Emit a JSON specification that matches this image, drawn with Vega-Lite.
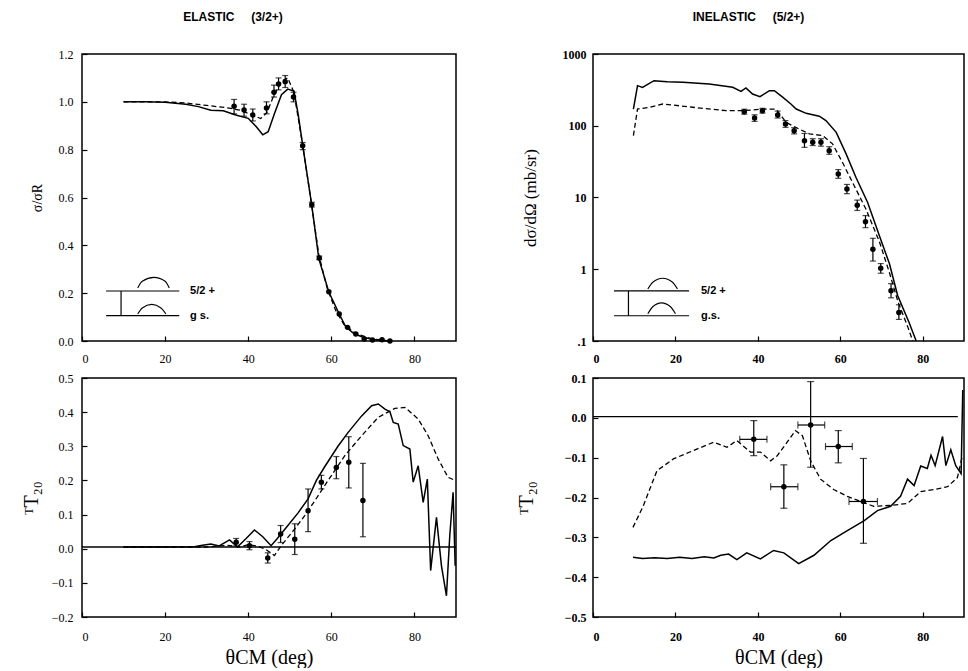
{
"$schema":"https://vega.github.io/schema/vega-lite/v6.json",
"background":"white",
"padding":{"left":20,"top":10,"right":0,"bottom":0},
"bounds":"flush",
"align":"each",
"columns":2,
"spacing":{"row":37,"column":137},
"datasets":{
"tl_solid":[{"x":10,"y":1.0},{"x":15,"y":1.0},{"x":20,"y":0.998},{"x":25,"y":0.99},{"x":28,"y":0.98},{"x":31,"y":0.965},{"x":34,"y":0.963},{"x":37,"y":0.945},{"x":40,"y":0.931},{"x":42,"y":0.895},{"x":43.5,"y":0.862},{"x":44.8,"y":0.875},{"x":46.3,"y":0.95},{"x":48,"y":1.03},{"x":49.5,"y":1.053},{"x":51,"y":1.045},{"x":52,"y":0.95},{"x":53.1,"y":0.82},{"x":55.3,"y":0.566},{"x":57,"y":0.343},{"x":59.4,"y":0.205},{"x":61.9,"y":0.113},{"x":63.5,"y":0.058},{"x":65.5,"y":0.03},{"x":67.5,"y":0.017},{"x":70,"y":0.006},{"x":74,"y":0.0}],
"tl_dash":[{"x":10,"y":1.0},{"x":20,"y":1.0},{"x":25,"y":0.995},{"x":30,"y":0.985},{"x":35,"y":0.975},{"x":38,"y":0.965},{"x":41,"y":0.945},{"x":43,"y":0.93},{"x":44.5,"y":0.955},{"x":46,"y":1.02},{"x":48,"y":1.085},{"x":49.5,"y":1.1},{"x":51,"y":1.04},{"x":53,"y":0.83},{"x":55,"y":0.6},{"x":57,"y":0.36},{"x":59,"y":0.22},{"x":61,"y":0.13},{"x":63,"y":0.07},{"x":66,"y":0.03},{"x":70,"y":0.008},{"x":74,"y":0.0}],
"tl_pts":[{"x":36.6,"y":0.982,"lo":0.95,"hi":1.01},{"x":39,"y":0.966,"lo":0.94,"hi":0.99},{"x":41.1,"y":0.945,"lo":0.92,"hi":0.97},{"x":44.4,"y":0.974,"lo":0.95,"hi":1.0},{"x":46.2,"y":1.04,"lo":1.02,"hi":1.07},{"x":47.3,"y":1.075,"lo":1.05,"hi":1.1},{"x":48.9,"y":1.084,"lo":1.06,"hi":1.11},{"x":50.9,"y":1.02,"lo":1.0,"hi":1.04},{"x":53.1,"y":0.816,"lo":0.8,"hi":0.83},{"x":55.3,"y":0.57,"lo":0.56,"hi":0.58},{"x":57.1,"y":0.347,"lo":0.34,"hi":0.355},{"x":59.4,"y":0.206,"lo":0.206,"hi":0.206},{"x":61.9,"y":0.113,"lo":0.113,"hi":0.113},{"x":63.9,"y":0.057,"lo":0.057,"hi":0.057},{"x":65.9,"y":0.029,"lo":0.029,"hi":0.029},{"x":67.9,"y":0.008,"lo":0.008,"hi":0.008},{"x":69.9,"y":0.004,"lo":0.004,"hi":0.004},{"x":72.2,"y":0.005,"lo":0.005,"hi":0.005},{"x":74.1,"y":0.0,"lo":0.0,"hi":0.0}],
"tl_lev":[{"x1":5.8,"x2":23.4,"y":0.209},{"x1":5.8,"x2":23.4,"y":0.106}],
"tl_arr":[{"x":9.4,"lo":0.106,"hi":0.209}],
"tl_arc":[{"x":13.4,"y":0.222,"g":"u"},{"x":14.5,"y":0.25,"g":"u"},{"x":17.3,"y":0.266,"g":"u"},{"x":20,"y":0.25,"g":"u"},{"x":21,"y":0.222,"g":"u"},{"x":13.4,"y":0.113,"g":"l"},{"x":14.5,"y":0.138,"g":"l"},{"x":16.8,"y":0.153,"g":"l"},{"x":19,"y":0.138,"g":"l"},{"x":20.2,"y":0.113,"g":"l"}],
"tl_txt":[{"x":26,"y":0.209,"t":"5/2 +"},{"x":26,"y":0.106,"t":"g s."}],
"tr_solid":[{"x":9.8,"y":171},{"x":10.8,"y":362},{"x":12,"y":343},{"x":14.8,"y":425},{"x":18,"y":410},{"x":21.8,"y":403},{"x":28.2,"y":382},{"x":33.9,"y":343},{"x":35.9,"y":302},{"x":37.1,"y":336},{"x":38.7,"y":277},{"x":40.5,"y":254},{"x":42.8,"y":308},{"x":44,"y":308},{"x":46,"y":250},{"x":48,"y":201},{"x":49.3,"y":171},{"x":51.7,"y":149},{"x":54.9,"y":136},{"x":56.5,"y":118},{"x":59,"y":81},{"x":61.4,"y":40.5},{"x":63.8,"y":19},{"x":66.6,"y":8.6},{"x":69.5,"y":2.9},{"x":71.9,"y":1.2},{"x":73.9,"y":0.43},{"x":76.7,"y":0.18},{"x":78.4,"y":0.1},{"x":79,"y":0.08}],
"tr_dash":[{"x":9.8,"y":72.8},{"x":10.8,"y":171},{"x":13.7,"y":181},{"x":16.9,"y":201},{"x":24.2,"y":181},{"x":32.3,"y":162},{"x":36.3,"y":162},{"x":41.2,"y":171},{"x":44.4,"y":171},{"x":46.8,"y":112},{"x":49.3,"y":94},{"x":52.5,"y":77},{"x":55.7,"y":73},{"x":58.1,"y":56},{"x":60.5,"y":31},{"x":63.8,"y":13},{"x":66.2,"y":6.9},{"x":69.5,"y":2.4},{"x":71.9,"y":0.9},{"x":74,"y":0.35},{"x":76.5,"y":0.15},{"x":78.5,"y":0.07}],
"tr_pts":[{"x":36.7,"y":157,"lo":145,"hi":170},{"x":39.2,"y":128,"lo":115,"hi":142},{"x":41.1,"y":162,"lo":150,"hi":175},{"x":44.8,"y":141,"lo":128,"hi":160},{"x":46.7,"y":106,"lo":95,"hi":118},{"x":48.8,"y":85,"lo":77,"hi":94},{"x":51.3,"y":62,"lo":50,"hi":78},{"x":53.3,"y":59,"lo":53,"hi":66},{"x":55.3,"y":59,"lo":52,"hi":66},{"x":57.3,"y":45,"lo":40,"hi":51},{"x":59.5,"y":21.3,"lo":18.5,"hi":24.5},{"x":61.6,"y":13.1,"lo":11.3,"hi":15.2},{"x":64.1,"y":7.8,"lo":6.6,"hi":9.2},{"x":66.1,"y":4.6,"lo":3.8,"hi":5.6},{"x":67.9,"y":1.9,"lo":1.3,"hi":2.7},{"x":69.8,"y":1.03,"lo":0.88,"hi":1.2},{"x":72.3,"y":0.5,"lo":0.4,"hi":0.63},{"x":74.2,"y":0.25,"lo":0.2,"hi":0.32}],
"tr_lev":[{"x1":5.1,"x2":23.3,"y":0.498},{"x1":5.1,"x2":23.3,"y":0.225}],
"tr_arr":[{"x":8.6,"lo":0.225,"hi":0.498}],
"tr_arc":[{"x":13.3,"y":0.53,"g":"u"},{"x":14.5,"y":0.66,"g":"u"},{"x":16.9,"y":0.75,"g":"u"},{"x":19.3,"y":0.66,"g":"u"},{"x":20.5,"y":0.53,"g":"u"},{"x":13.3,"y":0.24,"g":"l"},{"x":14.5,"y":0.3,"g":"l"},{"x":16.6,"y":0.34,"g":"l"},{"x":18.8,"y":0.3,"g":"l"},{"x":20,"y":0.24,"g":"l"}],
"tr_txt":[{"x":26.2,"y":0.498,"t":"5/2 +"},{"x":26.2,"y":0.225,"t":"g.s."}],
"bl_zero":[{"x1":0,"x2":90,"y":0.005}],
"br_zero":[{"x1":0,"x2":88.5,"y":0.003}],
"bl_solid":[{"x":10,"y":0.005},{"x":20,"y":0.005},{"x":27,"y":0.006},{"x":29,"y":0.01},{"x":31,"y":0.014},{"x":33,"y":0.008},{"x":35.5,"y":0.026},{"x":37.4,"y":0.005},{"x":39.5,"y":0.03},{"x":41.5,"y":0.055},{"x":43.5,"y":0.035},{"x":45.5,"y":0.009},{"x":47,"y":0.03},{"x":49.5,"y":0.067},{"x":52,"y":0.105},{"x":54.4,"y":0.146},{"x":56.4,"y":0.2},{"x":58.4,"y":0.24},{"x":61.6,"y":0.3},{"x":64,"y":0.34},{"x":67.3,"y":0.389},{"x":69.7,"y":0.419},{"x":71.3,"y":0.424},{"x":72.9,"y":0.409},{"x":74.1,"y":0.401},{"x":74.9,"y":0.37},{"x":76.1,"y":0.365},{"x":77.3,"y":0.302},{"x":78.9,"y":0.292},{"x":79.7,"y":0.195},{"x":80.9,"y":0.243},{"x":82.1,"y":0.136},{"x":83.1,"y":0.204},{"x":83.9,"y":-0.064},{"x":85.3,"y":0.092},{"x":86.5,"y":-0.05},{"x":87.7,"y":-0.138},{"x":88.5,"y":0.038},{"x":89.3,"y":0.165},{"x":89.8,"y":-0.05}],
"bl_dash":[{"x":10,"y":0.005},{"x":30,"y":0.005},{"x":35,"y":0.01},{"x":38,"y":0.005},{"x":40,"y":0.012},{"x":42,"y":0.008},{"x":44,"y":0.0},{"x":46.3,"y":-0.02},{"x":48,"y":0.01},{"x":51.2,"y":0.058},{"x":53.6,"y":0.097},{"x":56,"y":0.14},{"x":58.4,"y":0.185},{"x":63.2,"y":0.272},{"x":67.3,"y":0.331},{"x":71.3,"y":0.385},{"x":75.3,"y":0.411},{"x":77.7,"y":0.414},{"x":80.9,"y":0.38},{"x":83.3,"y":0.331},{"x":85.7,"y":0.263},{"x":88.1,"y":0.209},{"x":89.8,"y":0.2}],
"bl_pts":[{"x":37.1,"y":0.019,"lo":0.008,"hi":0.03},{"x":40.3,"y":0.009,"lo":-0.003,"hi":0.021},{"x":44.7,"y":-0.027,"lo":-0.042,"hi":-0.012},{"x":47.8,"y":0.043,"lo":0.018,"hi":0.068},{"x":51.2,"y":0.028,"lo":-0.017,"hi":0.073},{"x":54.4,"y":0.111,"lo":0.05,"hi":0.175},{"x":57.6,"y":0.195,"lo":0.175,"hi":0.215},{"x":61.2,"y":0.238,"lo":0.205,"hi":0.27},{"x":64.2,"y":0.253,"lo":0.178,"hi":0.328},{"x":67.6,"y":0.141,"lo":0.035,"hi":0.25}],
"br_solid":[{"x":9.7,"y":-0.35},{"x":12,"y":-0.353},{"x":15,"y":-0.351},{"x":18,"y":-0.353},{"x":21,"y":-0.35},{"x":24,"y":-0.353},{"x":27,"y":-0.349},{"x":29.3,"y":-0.352},{"x":31,"y":-0.345},{"x":32.9,"y":-0.342},{"x":34.9,"y":-0.356},{"x":37.3,"y":-0.339},{"x":40.6,"y":-0.354},{"x":43.8,"y":-0.333},{"x":46.3,"y":-0.339},{"x":49.9,"y":-0.366},{"x":53.6,"y":-0.345},{"x":57.7,"y":-0.308},{"x":61.7,"y":-0.283},{"x":65.8,"y":-0.258},{"x":69,"y":-0.233},{"x":72.2,"y":-0.222},{"x":74.6,"y":-0.197},{"x":76.3,"y":-0.154},{"x":77.9,"y":-0.17},{"x":79.5,"y":-0.121},{"x":81.1,"y":-0.127},{"x":82,"y":-0.094},{"x":83,"y":-0.12},{"x":84.8,"y":-0.047},{"x":85.6,"y":-0.12},{"x":86.8,"y":-0.08},{"x":88,"y":-0.12},{"x":89.3,"y":-0.14},{"x":89.7,"y":0.07}],
"br_dash":[{"x":9.7,"y":-0.275},{"x":12.2,"y":-0.221},{"x":15.5,"y":-0.133},{"x":19.5,"y":-0.103},{"x":24.4,"y":-0.082},{"x":29.3,"y":-0.061},{"x":32.5,"y":-0.074},{"x":34.9,"y":-0.057},{"x":38.2,"y":-0.086},{"x":40.6,"y":-0.086},{"x":43.1,"y":-0.108},{"x":44.7,"y":-0.095},{"x":47.1,"y":-0.061},{"x":49.1,"y":-0.032},{"x":50.8,"y":-0.045},{"x":52.8,"y":-0.108},{"x":55.2,"y":-0.154},{"x":58.4,"y":-0.18},{"x":61.7,"y":-0.197},{"x":64.9,"y":-0.21},{"x":68.1,"y":-0.222},{"x":72.2,"y":-0.22},{"x":76.3,"y":-0.215},{"x":79.5,"y":-0.185},{"x":82.7,"y":-0.18},{"x":86,"y":-0.173},{"x":88.4,"y":-0.15},{"x":89.5,"y":-0.1}],
"br_pts":[{"x":39,"y":-0.054,"lo":-0.095,"hi":-0.007,"xlo":35.6,"xhi":42.2},{"x":46.3,"y":-0.173,"lo":-0.227,"hi":-0.118,"xlo":43.1,"xhi":49.7},{"x":52.8,"y":-0.018,"lo":-0.124,"hi":0.091,"xlo":49.7,"xhi":56.2},{"x":59.5,"y":-0.072,"lo":-0.113,"hi":-0.032,"xlo":56.4,"xhi":62.9},{"x":65.6,"y":-0.21,"lo":-0.315,"hi":-0.102,"xlo":62.1,"xhi":69}]
},
"concat":[
{
"width":374,"height":287,
"title":{"text":"ELASTIC\u00a0\u00a0\u00a0\u00a0\u00a0(3/2+)","dx":-36},
"layer":[
{"data":{"name":"tl_dash"},"mark":{"type":"line","color":"black","strokeWidth":1.3,"strokeDash":[5,3]},
"encoding":{"x":{"field":"x","type":"quantitative","scale":{"domain":[0,90],"nice":false,"zero":false},"axis":{"values":[0,20,40,60,80],"tickCount":20,"format":"d","title":null,"labelPadding":17}},
"y":{"field":"y","type":"quantitative","scale":{"domain":[0,1.2],"nice":false},"axis":{"values":[0,0.2,0.4,0.6,0.8,1,1.2],"tickCount":20,"format":".1f","title":"σ/σR","titleFontSize":14,"titlePadding":14}}}},
{"data":{"name":"tl_solid"},"mark":{"type":"line","color":"black","strokeWidth":1.5},"encoding":{"x":{"field":"x","type":"quantitative"},"y":{"field":"y","type":"quantitative"}}},
{"data":{"name":"tl_pts"},"mark":{"type":"rule","color":"black","strokeWidth":1.2},"encoding":{"x":{"field":"x","type":"quantitative"},"y":{"field":"lo","type":"quantitative"},"y2":{"field":"hi"}}},
{"data":{"name":"tl_pts"},"transform":[{"filter":"datum.hi > datum.lo"}],"mark":{"type":"tick","orient":"horizontal","size":6,"thickness":1.2,"color":"black"},"encoding":{"x":{"field":"x","type":"quantitative"},"y":{"field":"lo","type":"quantitative"}}},
{"data":{"name":"tl_pts"},"transform":[{"filter":"datum.hi > datum.lo"}],"mark":{"type":"tick","orient":"horizontal","size":6,"thickness":1.2,"color":"black"},"encoding":{"x":{"field":"x","type":"quantitative"},"y":{"field":"hi","type":"quantitative"}}},
{"data":{"name":"tl_pts"},"mark":{"type":"circle","size":30,"color":"black","opacity":1},"encoding":{"x":{"field":"x","type":"quantitative"},"y":{"field":"y","type":"quantitative"}}},
{"data":{"name":"tl_lev"},"mark":{"type":"rule","color":"black","strokeWidth":1.2},"encoding":{"x":{"field":"x1","type":"quantitative"},"x2":{"field":"x2"},"y":{"field":"y","type":"quantitative"}}},
{"data":{"name":"tl_arr"},"mark":{"type":"rule","color":"black","strokeWidth":1.2},"encoding":{"x":{"field":"x","type":"quantitative"},"y":{"field":"lo","type":"quantitative"},"y2":{"field":"hi"}}},
{"data":{"name":"tl_arc"},"mark":{"type":"line","color":"black","strokeWidth":1.1,"interpolate":"monotone"},"encoding":{"x":{"field":"x","type":"quantitative"},"y":{"field":"y","type":"quantitative"},"detail":{"field":"g"}}},
{"data":{"name":"tl_txt"},"mark":{"type":"text","align":"left","baseline":"middle","font":"Liberation Sans","fontWeight":"bold","fontSize":11,"color":"black"},"encoding":{"x":{"field":"x","type":"quantitative"},"y":{"field":"y","type":"quantitative"},"text":{"field":"t"}}}
]
},
{
"width":371,"height":287,
"title":{"text":"INELASTIC\u00a0\u00a0\u00a0\u00a0\u00a0(5/2+)","dx":-30},
"layer":[
{"data":{"name":"tr_dash"},"mark":{"type":"line","color":"black","strokeWidth":1.3,"strokeDash":[5,3],"clip":true},
"encoding":{"x":{"field":"x","type":"quantitative","scale":{"domain":[0,90],"nice":false,"zero":false},"axis":{"values":[0,20,40,60,80],"tickCount":20,"format":"d","title":null,"labelFontWeight":"bold","labelPadding":17}},
"y":{"field":"y","type":"quantitative","scale":{"type":"log","domain":[0.1,1000],"nice":false},"axis":{"values":[0.1,1,10,100,1000],"tickCount":20,"labelExpr":"datum.value < 1 ? '.1' : format(datum.value, 'd')","title":"dσ/dΩ (mb/sr)","titleFontSize":17,"titlePadding":23,"labelFontWeight":"bold","labelPadding":12}}}},
{"data":{"name":"tr_solid"},"mark":{"type":"line","color":"black","strokeWidth":1.5,"clip":true},"encoding":{"x":{"field":"x","type":"quantitative"},"y":{"field":"y","type":"quantitative","scale":{"type":"log"}}}},
{"data":{"name":"tr_pts"},"mark":{"type":"rule","color":"black","strokeWidth":1.2},"encoding":{"x":{"field":"x","type":"quantitative"},"y":{"field":"lo","type":"quantitative","scale":{"type":"log"}},"y2":{"field":"hi"}}},
{"data":{"name":"tr_pts"},"mark":{"type":"tick","orient":"horizontal","size":6,"thickness":1.2,"color":"black"},"encoding":{"x":{"field":"x","type":"quantitative"},"y":{"field":"lo","type":"quantitative","scale":{"type":"log"}}}},
{"data":{"name":"tr_pts"},"mark":{"type":"tick","orient":"horizontal","size":6,"thickness":1.2,"color":"black"},"encoding":{"x":{"field":"x","type":"quantitative"},"y":{"field":"hi","type":"quantitative","scale":{"type":"log"}}}},
{"data":{"name":"tr_pts"},"mark":{"type":"circle","size":30,"color":"black","opacity":1},"encoding":{"x":{"field":"x","type":"quantitative"},"y":{"field":"y","type":"quantitative","scale":{"type":"log"}}}},
{"data":{"name":"tr_lev"},"mark":{"type":"rule","color":"black","strokeWidth":1.2},"encoding":{"x":{"field":"x1","type":"quantitative"},"x2":{"field":"x2"},"y":{"field":"y","type":"quantitative","scale":{"type":"log"}}}},
{"data":{"name":"tr_arr"},"mark":{"type":"rule","color":"black","strokeWidth":1.2},"encoding":{"x":{"field":"x","type":"quantitative"},"y":{"field":"lo","type":"quantitative","scale":{"type":"log"}},"y2":{"field":"hi"}}},
{"data":{"name":"tr_arc"},"mark":{"type":"line","color":"black","strokeWidth":1.1,"interpolate":"monotone"},"encoding":{"x":{"field":"x","type":"quantitative"},"y":{"field":"y","type":"quantitative","scale":{"type":"log"}},"detail":{"field":"g"}}},
{"data":{"name":"tr_txt"},"mark":{"type":"text","align":"left","baseline":"middle","font":"Liberation Sans","fontWeight":"bold","fontSize":11,"color":"black"},"encoding":{"x":{"field":"x","type":"quantitative"},"y":{"field":"y","type":"quantitative","scale":{"type":"log"}},"text":{"field":"t"}}}
]
},
{
"width":374,"height":239,
"layer":[
{"data":{"name":"bl_dash"},"mark":{"type":"line","color":"black","strokeWidth":1.3,"strokeDash":[5,3],"clip":true},
"encoding":{"x":{"field":"x","type":"quantitative","scale":{"domain":[0,90],"nice":false,"zero":false},"axis":{"values":[0,20,40,60,80],"tickCount":20,"format":"d","title":"θCM (deg)","titleFontSize":20,"titlePadding":5,"labelPadding":19}},
"y":{"field":"y","type":"quantitative","scale":{"domain":[-0.2,0.5],"nice":false},"axis":{"values":[-0.2,-0.1,0,0.1,0.2,0.3,0.4,0.5],"tickCount":20,"format":".1f","title":"ᵀT₂₀","titleFontSize":20}}}},
{"data":{"name":"bl_solid"},"mark":{"type":"line","color":"black","strokeWidth":1.5,"clip":true},"encoding":{"x":{"field":"x","type":"quantitative"},"y":{"field":"y","type":"quantitative"}}},
{"data":{"name":"bl_zero"},"mark":{"type":"rule","color":"black","strokeWidth":1.3},"encoding":{"x":{"field":"x1","type":"quantitative"},"x2":{"field":"x2"},"y":{"field":"y","type":"quantitative"}}},
{"data":{"name":"bl_pts"},"mark":{"type":"rule","color":"black","strokeWidth":1.2},"encoding":{"x":{"field":"x","type":"quantitative"},"y":{"field":"lo","type":"quantitative"},"y2":{"field":"hi"}}},
{"data":{"name":"bl_pts"},"mark":{"type":"tick","orient":"horizontal","size":6,"thickness":1.2,"color":"black"},"encoding":{"x":{"field":"x","type":"quantitative"},"y":{"field":"lo","type":"quantitative"}}},
{"data":{"name":"bl_pts"},"mark":{"type":"tick","orient":"horizontal","size":6,"thickness":1.2,"color":"black"},"encoding":{"x":{"field":"x","type":"quantitative"},"y":{"field":"hi","type":"quantitative"}}},
{"data":{"name":"bl_pts"},"mark":{"type":"circle","size":30,"color":"black","opacity":1},"encoding":{"x":{"field":"x","type":"quantitative"},"y":{"field":"y","type":"quantitative"}}}
]
},
{
"width":371,"height":239,
"layer":[
{"data":{"name":"br_dash"},"mark":{"type":"line","color":"black","strokeWidth":1.3,"strokeDash":[5,3],"clip":true},
"encoding":{"x":{"field":"x","type":"quantitative","scale":{"domain":[0,90],"nice":false,"zero":false},"axis":{"values":[0,20,40,60,80],"tickCount":20,"format":"d","title":"θCM (deg)","titleFontSize":20,"titlePadding":5,"labelFontWeight":"bold","labelPadding":19}},
"y":{"field":"y","type":"quantitative","scale":{"domain":[-0.5,0.1],"nice":false},"axis":{"values":[-0.5,-0.4,-0.3,-0.2,-0.1,0,0.1],"tickCount":20,"format":".1f","title":"ᵀT₂₀","titleFontSize":20,"titlePadding":28,"labelFontWeight":"bold","labelPadding":12}}}},
{"data":{"name":"br_solid"},"mark":{"type":"line","color":"black","strokeWidth":1.5,"clip":true},"encoding":{"x":{"field":"x","type":"quantitative"},"y":{"field":"y","type":"quantitative"}}},
{"data":{"name":"br_zero"},"mark":{"type":"rule","color":"black","strokeWidth":1.3},"encoding":{"x":{"field":"x1","type":"quantitative"},"x2":{"field":"x2"},"y":{"field":"y","type":"quantitative"}}},
{"data":{"name":"br_pts"},"mark":{"type":"rule","color":"black","strokeWidth":1.2},"encoding":{"x":{"field":"x","type":"quantitative"},"y":{"field":"lo","type":"quantitative"},"y2":{"field":"hi"}}},
{"data":{"name":"br_pts"},"mark":{"type":"rule","color":"black","strokeWidth":1.2},"encoding":{"x":{"field":"xlo","type":"quantitative"},"x2":{"field":"xhi"},"y":{"field":"y","type":"quantitative"}}},
{"data":{"name":"br_pts"},"mark":{"type":"tick","orient":"horizontal","size":7,"thickness":1.2,"color":"black"},"encoding":{"x":{"field":"x","type":"quantitative"},"y":{"field":"lo","type":"quantitative"}}},
{"data":{"name":"br_pts"},"mark":{"type":"tick","orient":"horizontal","size":7,"thickness":1.2,"color":"black"},"encoding":{"x":{"field":"x","type":"quantitative"},"y":{"field":"hi","type":"quantitative"}}},
{"data":{"name":"br_pts"},"mark":{"type":"tick","orient":"vertical","size":7,"thickness":1.2,"color":"black"},"encoding":{"x":{"field":"xlo","type":"quantitative"},"y":{"field":"y","type":"quantitative"}}},
{"data":{"name":"br_pts"},"mark":{"type":"tick","orient":"vertical","size":7,"thickness":1.2,"color":"black"},"encoding":{"x":{"field":"xhi","type":"quantitative"},"y":{"field":"y","type":"quantitative"}}},
{"data":{"name":"br_pts"},"mark":{"type":"circle","size":30,"color":"black","opacity":1},"encoding":{"x":{"field":"x","type":"quantitative"},"y":{"field":"y","type":"quantitative"}}}
]
}
],
"config":{
"view":{"stroke":"black","strokeWidth":1.5},
"axis":{"grid":false,"domain":false,"tickColor":"black","tickSize":-5,"tickWidth":1.2,"labelColor":"black","labelFont":"Liberation Serif","labelFontSize":12,"labelPadding":14,"labelOverlap":false,"titleFont":"Liberation Serif","titleColor":"black","titleFontWeight":"normal","titlePadding":10},
"title":{"font":"Liberation Sans","fontSize":12,"fontWeight":"bold","anchor":"middle","offset":24,"color":"black"}
}
}
